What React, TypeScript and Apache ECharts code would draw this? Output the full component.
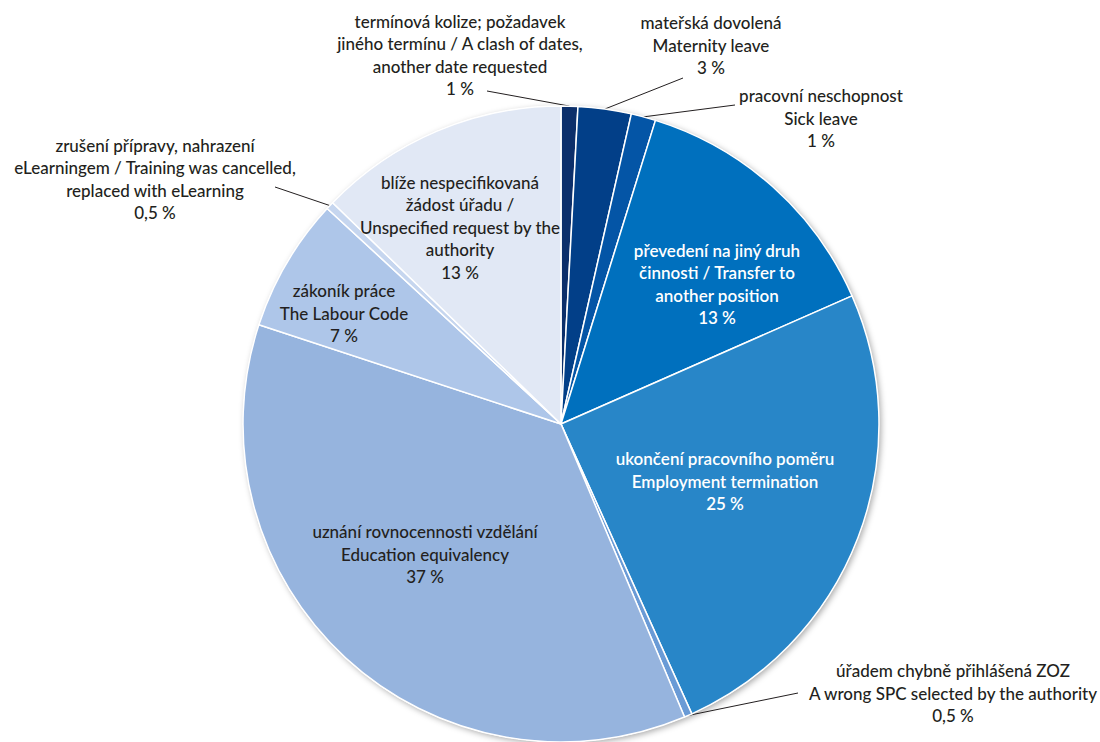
import React, { useEffect, useRef } from "react";
import * as echarts from "echarts";

const categories = [
  "termínová kolize; požadavek\njiného termínu / A clash of dates,\nanother date requested",
  "mateřská dovolená\nMaternity leave",
  "pracovní neschopnost\nSick leave",
  "převedení na jiný druh\nčinnosti / Transfer to\nanother position",
  "ukončení pracovního poměru\nEmployment termination",
  "úřadem chybně přihlášená ZOZ\nA wrong SPC selected by the authority",
  "uznání rovnocennosti vzdělání\nEducation equivalency",
  "zákoník práce\nThe Labour Code",
  "zrušení přípravy, nahrazení\neLearningem / Training was cancelled,\nreplaced with eLearning",
  "blíže nespecifikovaná\nžádost úřadu /\nUnspecified request by the\nauthority",
];
const values = [0.85, 2.7, 1.25, 13.6, 24.85, 0.4, 36.4, 6.8, 0.4, 12.75];
const percentLabels = ["1 %", "3 %", "1 %", "13 %", "25 %", "0,5 %", "37 %", "7 %", "0,5 %", "13 %"];
const colors = ["#0c2f6a", "#023f88", "#0455a6", "#0070be", "#2886c8", "#6a9bd6", "#96b4de", "#aec6e9", "#c6d6ef", "#e1e8f5"];
const outsideIdx = [0, 1, 2, 5, 8];
const whiteIdx = [3, 4];

// layout constants (label centres and leader-line ends)
const labelPos: number[][] = [
  [460, 55], [711, 45], [821, 118], [717, 284], [725, 481],
  [953, 693], [425, 554], [344, 313], [155, 179], [460, 227],
];
const lineEnds: Record<number, number[]> = {
  0: [487, 91],
  1: [683, 78],
  2: [735, 105],
  5: [798, 693],
  8: [275, 187],
};

const FONT = "Lato, 'Noto Sans', sans-serif";

export default function App() {
  const ref = useRef<HTMLDivElement>(null);
  useEffect(() => {
    if (!ref.current) return;
    const chart = echarts.init(ref.current, null, { renderer: "svg" });
    const data = values.map((v, i) => {
      const outside = outsideIdx.includes(i);
      const white = whiteIdx.includes(i);
      return {
        name: categories[i],
        value: v,
        itemStyle: { color: colors[i] },
        label: {
          position: outside ? "outside" : "inside",
          color: white ? "#ffffff" : "#231f20",
          fontWeight: white ? 600 : 500,
        },
        labelLine: { show: outside },
      };
    });
    chart.setOption({
      animation: false,
      backgroundColor: "#ffffff",
      series: [
        {
          type: "pie",
          silent: true,
          center: [561, 424],
          radius: [0, 318],
          label: { show: false },
          labelLine: { show: false },
          itemStyle: {
            color: "#ffffff",
            shadowBlur: 6,
            shadowColor: "rgba(0,0,0,0.35)",
            shadowOffsetX: 2,
            shadowOffsetY: 2,
          },
          data: [{ value: 1, name: "bg" }],
          z: 1,
        },
        {
          type: "pie",
          z: 2,
          center: [561, 424],
          radius: [0, 318],
          startAngle: 90,
          clockwise: true,
          avoidLabelOverlap: false,
          itemStyle: { borderColor: "#ffffff", borderWidth: 1.5 },
          label: {
            show: true,
            fontFamily: FONT,
            fontSize: 17,
            lineHeight: 22.5,
            align: "center",
            formatter: (p: any) => categories[p.dataIndex] + "\n" + percentLabels[p.dataIndex],
          },
          labelLine: {
            show: true,
            lineStyle: { color: "#231f20", width: 1 },
          },
          labelLayout: (params: any) => {
            const i = params.dataIndex;
            const pos = labelPos[i];
            const res: any = { x: pos[0], y: pos[1], align: "center", verticalAlign: "middle" };
            if (lineEnds[i] && params.labelLinePoints && params.labelLinePoints[0]) {
              res.labelLinePoints = [params.labelLinePoints[0], lineEnds[i]];
            }
            return res;
          },
          data,
        },
      ],
    });
    return () => chart.dispose();
  }, []);
  return (
    <div
      ref={ref}
      style={{ position: "fixed", left: 0, top: 0, width: 1100, height: 742 }}
    />
  );
}
